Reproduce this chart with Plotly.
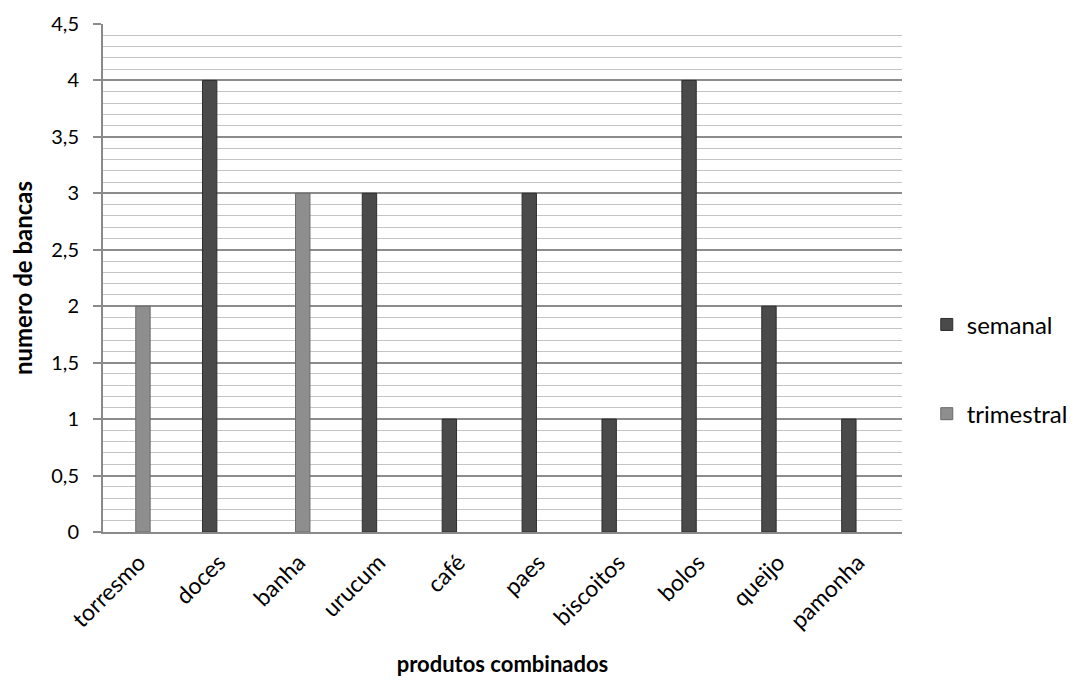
import plotly.graph_objects as go

categories = ["torresmo", "doces", "banha", "urucum", "café", "paes",
              "biscoitos", "bolos", "queijo", "pamonha"]
semanal = [None, 4, None, 3, 1, 3, 1, 4, 2, 1]
trimestral = [2, None, 3, None, None, None, None, None, None, None]

y_tickvals = [0, 0.5, 1, 1.5, 2, 2.5, 3, 3.5, 4, 4.5]

FONT = "Lato"
BAR_W = 0.18

fig = go.Figure()
fig.add_trace(go.Bar(
    name="semanal", x=categories, y=semanal,
    width=BAR_W, offset=-0.165 - BAR_W / 2,
    marker=dict(color="#4a4a4a", line=dict(color="#2e2e2e", width=1)),
    legendgroup="a",
))
fig.add_trace(go.Bar(
    name="trimestral", x=categories, y=trimestral,
    width=BAR_W, offset=-BAR_W / 2,
    marker=dict(color="#8e8e8e", line=dict(color="#6a6a6a", width=1)),
    legendgroup="b",
))

fig.update_layout(
    width=1082, height=681,
    margin=dict(l=95, r=188, t=16, b=157, autoexpand=False),
    paper_bgcolor="white", plot_bgcolor="white",
    barmode="overlay",
    separators=", ",
    font=dict(family=FONT, size=21, color="#000000"),
    legend=dict(
        x=1.031, y=0.452, xanchor="left", yanchor="top",
        traceorder="grouped", tracegroupgap=55,
        font=dict(family=FONT, size=24, color="#000000"),
        itemwidth=30,
    ),
    xaxis=dict(
        type="category",
        range=[-0.5, 9.5],
        automargin=False,
        showline=True, linecolor="#8a8a8a", linewidth=2,
        ticks="", tickangle=-45,
        ticklabelstandoff=6, ticklabelshift=-4,
        tickfont=dict(family=FONT, size=23),
        showgrid=False,
        title=dict(text="<b>produtos combinados</b>", font=dict(family=FONT, size=22),
                   standoff=24),
    ),
    yaxis=dict(
        range=[0, 4.5],
        tickvals=y_tickvals,
        automargin=False,
        showline=True, linecolor="#8a8a8a", linewidth=2,
        ticks="outside", ticklen=8, tickcolor="#8a8a8a", tickwidth=2,
        ticklabelstandoff=10,
        tickfont=dict(family=FONT, size=20),
        showgrid=True, gridcolor="#8c8c8c", gridwidth=1.5,
        minor=dict(dtick=0.1, showgrid=True, gridcolor="#c4c4c4", gridwidth=1.2, ticks=""),
        zeroline=False,
        title=dict(text="<b>numero de bancas</b>", font=dict(family=FONT, size=24),
                   standoff=20),
    ),
)

fig.write_html("out.html")
